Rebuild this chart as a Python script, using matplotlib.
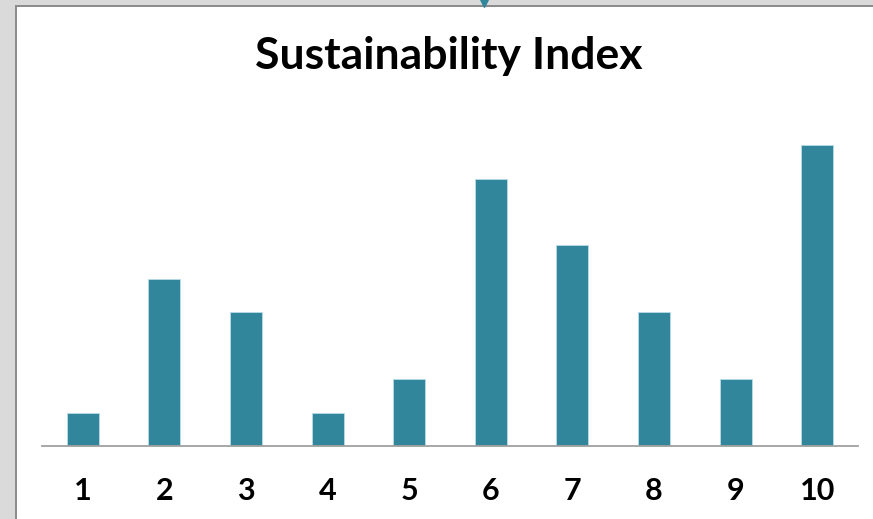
import matplotlib.pyplot as plt
from matplotlib.patches import Rectangle

categories = ["1", "2", "3", "4", "5", "6", "7", "8", "9", "10"]
values = [1, 5, 4, 1, 2, 8, 6, 4, 2, 9]

W, H = 873, 519
bar_color = "#31869B"

fig = plt.figure(figsize=(W / 100, H / 100), dpi=100)
fig.patch.set_facecolor("#DADADA")

# white chart area with darker frame on left/top (screenshot look)
fig.add_artist(Rectangle((15 / W, 0), 2 / W, 1 - 5 / H, transform=fig.transFigure,
                         color="#8C8C8C", lw=0, zorder=0))
fig.add_artist(Rectangle((15 / W, 1 - 7 / H), 1 - 15 / W, 2 / H, transform=fig.transFigure,
                         color="#8C8C8C", lw=0, zorder=0))
fig.add_artist(Rectangle((17 / W, 0), 1 - 17 / W, 1 - 7 / H, transform=fig.transFigure,
                         color="white", lw=0, zorder=0))
# little selection marker at the top
fig.add_artist(plt.Line2D([484 / W], [1 - 1 / H], marker="v", markersize=9,
                          color="#31869B", transform=fig.transFigure, zorder=3))

ax = fig.add_axes([42 / W, 73 / H, 816 / W, 341 / H])
ax.set_facecolor("none")
x = list(range(1, len(categories) + 1))
ax.bar(x, values, width=0.39, color=bar_color, edgecolor="#B7DDE8", linewidth=0.6)

ax.set_xlim(0.5, 10.5)
ax.set_ylim(0, 10.2)
ax.set_xticks(x)
ax.set_xticklabels(categories, fontsize=22, fontweight="bold", family="Lato")
ax.tick_params(axis="x", length=0, pad=22)
ax.set_yticks([])
for s in ["top", "right", "left"]:
    ax.spines[s].set_visible(False)
ax.spines["bottom"].set_color("#A0A0A0")
ax.spines["bottom"].set_linewidth(1.3)

fig.text(449 / W, 1 - 56 / H, "Sustainability Index", ha="center", va="center",
         fontsize=32, fontweight="bold", family="Lato")

plt.savefig("out.png", dpi=100)
